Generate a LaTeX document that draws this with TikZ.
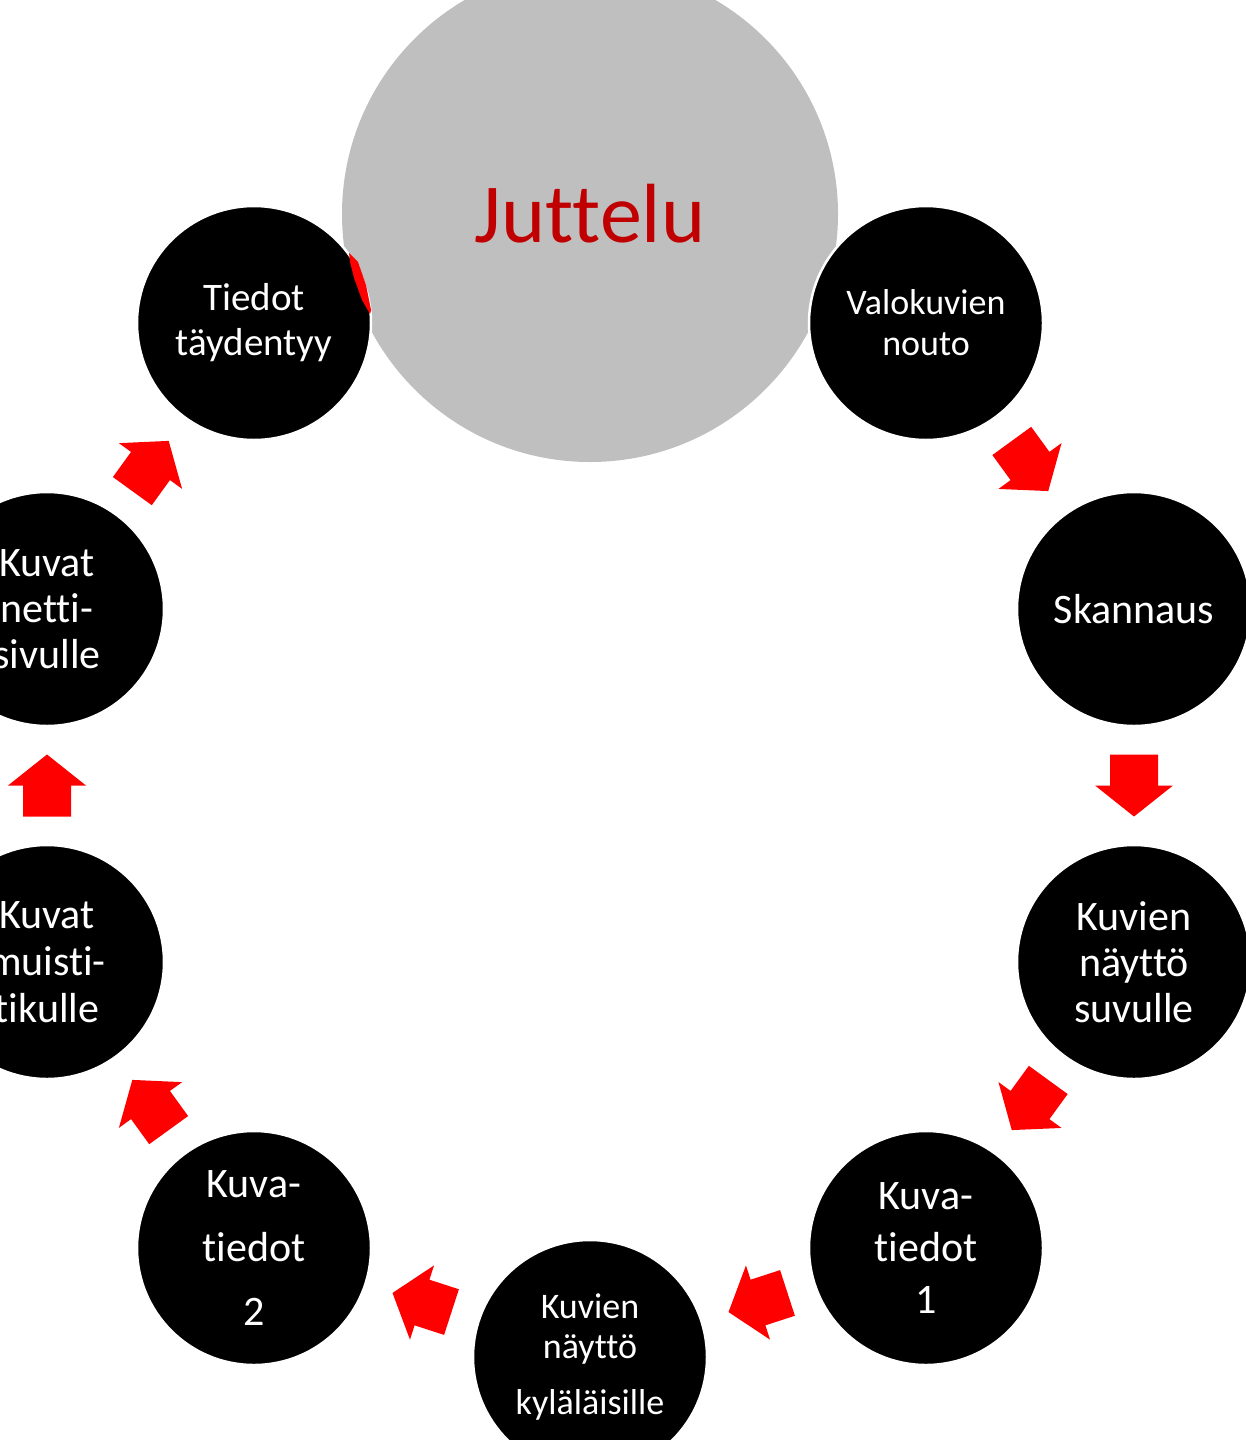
\documentclass[tikz,border=0pt]{standalone}
\usepackage{fontspec}
\setmainfont{Carlito}[Ligatures={NoCommon}]
\usepackage{tikz}
\usetikzlibrary{calc}
\definecolor{hubgray}{RGB}{191,191,191}
\definecolor{juttelured}{RGB}{192,0,0}
\definecolor{flowred}{RGB}{255,0,0}

\begin{document}
\begin{tikzpicture}
    [
      x=1pt, y=-1pt,
      Hub/.style={circle, draw=none, fill=hubgray, minimum size=496pt, inner sep=0pt, text=juttelured, font=\fontsize{84}{90}\selectfont},
      Phase/.style={circle, draw=white, fill=black, line width=2.5pt, minimum size=234pt, inner sep=0pt, text=white, align=center},
      Flow/.pic={\fill[flowred] (31,0) -- (0,39) -- (0,24) -- (-31,24) -- (-31,-24) -- (0,-24) -- (0,-39) -- cycle;},
    ]
    \useasboundingbox (0,0) rectangle (1246,1440);

    % Nodes
    \node[Hub] (juttelu) at (590, 214) {Juttelu};

    \node[Phase, font=\fontsize{36}{41}\selectfont] (valo) at (926, 323) {Valokuvien\\nouto};
    \node[Phase, font=\fontsize{42}{46}\selectfont] (skan) at (1134, 609) {Skannaus};
    \node[Phase, font=\fontsize{42}{46}\selectfont] (suku) at (1134, 962) {Kuvien\\näyttö\\suvulle};
    \node[Phase, font=\fontsize{42}{52}\selectfont] (tieto1) at (926, 1248) {Kuva-\\tiedot\\1};
    \node[Phase, font=\fontsize{36}{40}\selectfont] (kyla) at (590, 1357) {Kuvien\\näyttö\\[16pt]kyläläisille};
    \node[Phase, font=\fontsize{42}{64}\selectfont] (tieto2) at (254, 1248) {Kuva-\\tiedot\\2};
    \node[Phase, font=\fontsize{42}{47}\selectfont] (tikku) at (47, 962) {Kuvat\\muisti-\\tikulle};
    \node[Phase, font=\fontsize{42}{46}\selectfont] (netti) at (47, 609) {Kuvat\\netti-\\sivulle};
    \node[Phase, font=\fontsize{39}{45}\selectfont] (tied) at (254, 323) {Tiedot\\täydentyy};

    % Arrows
    \path let \p1=(valo), \p2=(skan), \n1={atan2(\y2-\y1,\x2-\x1)} in ($(valo)!0.5!(skan)$) pic[rotate=\n1] {Flow};
    \path let \p1=(skan), \p2=(suku), \n1={atan2(\y2-\y1,\x2-\x1)} in ($(skan)!0.5!(suku)$) pic[rotate=\n1] {Flow};
    \path let \p1=(suku), \p2=(tieto1), \n1={atan2(\y2-\y1,\x2-\x1)} in ($(suku)!0.5!(tieto1)$) pic[rotate=\n1] {Flow};
    \path let \p1=(tieto1), \p2=(kyla), \n1={atan2(\y2-\y1,\x2-\x1)} in ($(tieto1)!0.5!(kyla)$) pic[rotate=\n1] {Flow};
    \path let \p1=(kyla), \p2=(tieto2), \n1={atan2(\y2-\y1,\x2-\x1)} in ($(kyla)!0.5!(tieto2)$) pic[rotate=\n1] {Flow};
    \path let \p1=(tieto2), \p2=(tikku), \n1={atan2(\y2-\y1,\x2-\x1)} in ($(tieto2)!0.5!(tikku)$) pic[rotate=\n1] {Flow};
    \path let \p1=(tikku), \p2=(netti), \n1={atan2(\y2-\y1,\x2-\x1)} in ($(tikku)!0.5!(netti)$) pic[rotate=\n1] {Flow};
    \path let \p1=(netti), \p2=(tied), \n1={atan2(\y2-\y1,\x2-\x1)} in ($(netti)!0.5!(tied)$) pic[rotate=\n1] {Flow};

    % last arrow, hidden behind juttelu
    \fill[flowred] (349, 253) -- (358, 262) -- (366, 285) -- (371, 310) -- (370, 314) -- (362, 300) -- (354, 278) -- (350, 262) -- cycle;

\end{tikzpicture}
\end{document}
